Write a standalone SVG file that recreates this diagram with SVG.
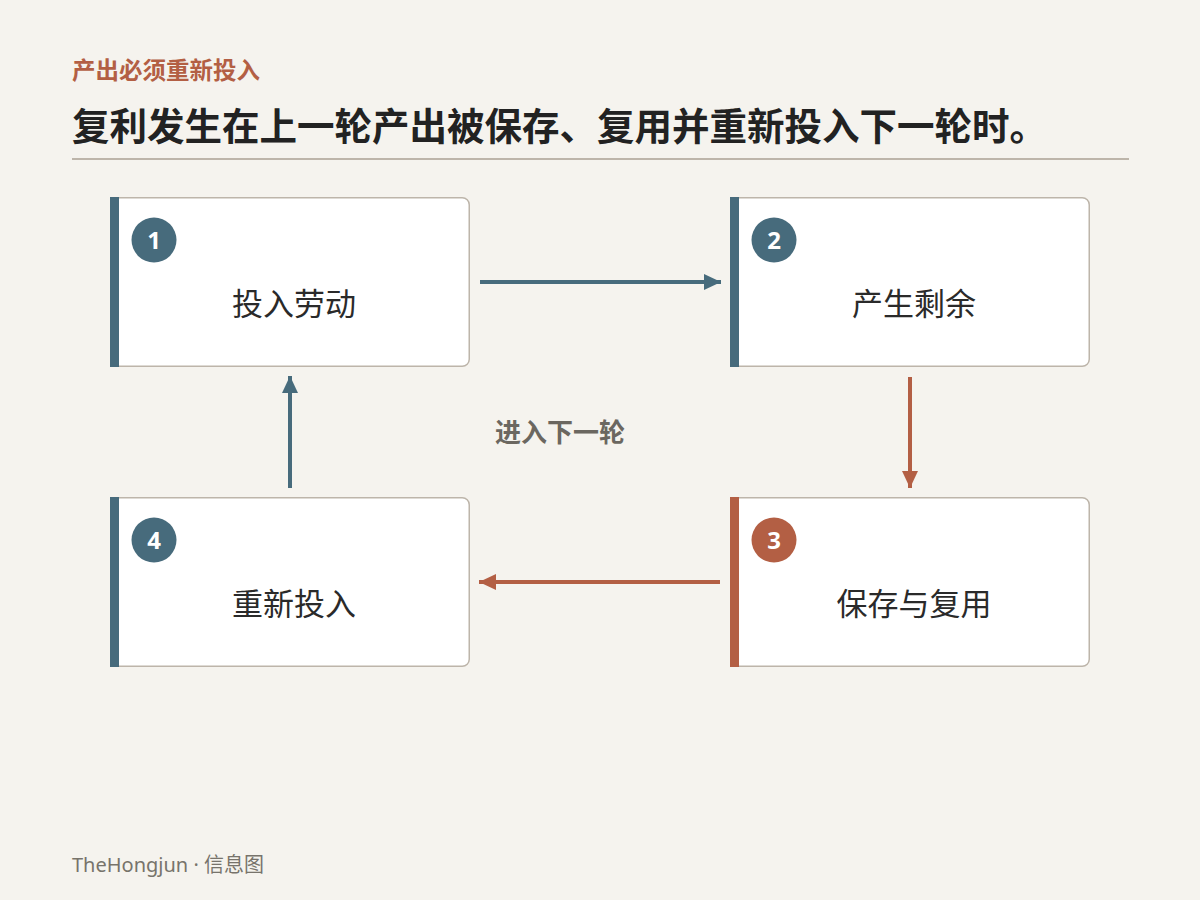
<svg xmlns="http://www.w3.org/2000/svg" width="1200" height="900" viewBox="0 0 1200 900">
<style>
.bg{fill:#f5f3ee}
.card{fill:#ffffff;stroke:#bdb5aa;stroke-width:1.5}
.lbl{font-family:"Noto Sans CJK SC","Noto Sans",sans-serif;font-size:31px;fill:#2a2a2a;text-anchor:middle}
.num{font-family:"Noto Sans","Liberation Sans",sans-serif;font-size:24px;font-weight:700;fill:#ffffff;text-anchor:middle}
.blue{fill:#476b7c}
.rust{fill:#b35f44}
.cb{stroke:#476b7c;stroke-width:4;fill:none}
.cr{stroke:#b35f44;stroke-width:4;fill:none}
</style>
<defs>
<marker id="ab" markerUnits="userSpaceOnUse" markerWidth="18" markerHeight="18" viewBox="0 0 18 18" refX="17" refY="9" orient="auto"><path d="M0,1 L17,9 L0,17 Z" fill="#476b7c"/></marker>
<marker id="ar" markerUnits="userSpaceOnUse" markerWidth="18" markerHeight="18" viewBox="0 0 18 18" refX="17" refY="9" orient="auto"><path d="M0,1 L17,9 L0,17 Z" fill="#b35f44"/></marker>
</defs>
<rect class="bg" x="0" y="0" width="1200" height="900"/>
<text x="72" y="79" font-family="Noto Sans CJK SC,sans-serif" font-size="23.5" font-weight="700" fill="#b35f44">产出必须重新投入</text>
<text x="72" y="140" font-family="Noto Sans CJK SC,sans-serif" font-size="37.5" font-weight="700" fill="#222222">复利发生在上一轮产出被保存、复用并重新投入下一轮时。</text>
<line x1="72" y1="159" x2="1129" y2="159" stroke="#bdb5aa" stroke-width="2"/>
<g id="connectors">
<line class="cb" x1="480" y1="282" x2="721" y2="282" marker-end="url(#ab)"/>
<line class="cr" x1="910" y1="377" x2="910" y2="488" marker-end="url(#ar)"/>
<line class="cr" x1="720" y1="582" x2="479" y2="582" marker-end="url(#ar)"/>
<line class="cb" x1="290" y1="488" x2="290" y2="376" marker-end="url(#ab)"/>
<text x="495" y="442" font-family="Noto Sans CJK SC,sans-serif" font-size="26" font-weight="700" fill="#6b6760">进入下一轮</text>
</g>
<g id="node1">
<rect class="card" x="110.75" y="197.75" width="358.5" height="168.5" rx="7"/>
<rect class="blue" x="110" y="197" width="9" height="170"/>
<circle class="blue" cx="154" cy="240" r="22.5"/>
<text class="num" x="154" y="248.5">1</text>
<text class="lbl" x="294" y="315">投入劳动</text>
</g>
<g id="node2">
<rect class="card" x="730.75" y="197.75" width="358.5" height="168.5" rx="7"/>
<rect class="blue" x="730" y="197" width="9" height="170"/>
<circle class="blue" cx="774" cy="240" r="22.5"/>
<text class="num" x="774" y="248.5">2</text>
<text class="lbl" x="914" y="315">产生剩余</text>
</g>
<g id="node3">
<rect class="card" x="730.75" y="497.75" width="358.5" height="168.5" rx="7"/>
<rect class="rust" x="730" y="497" width="9" height="170"/>
<circle class="rust" cx="774" cy="540" r="22.5"/>
<text class="num" x="774" y="548.5">3</text>
<text class="lbl" x="914" y="615">保存与复用</text>
</g>
<g id="node4">
<rect class="card" x="110.75" y="497.75" width="358.5" height="168.5" rx="7"/>
<rect class="blue" x="110" y="497" width="9" height="170"/>
<circle class="blue" cx="154" cy="540" r="22.5"/>
<text class="num" x="154" y="548.5">4</text>
<text class="lbl" x="294" y="615">重新投入</text>
</g>
<text x="72" y="872" font-family="Noto Sans,Noto Sans CJK SC,sans-serif" font-size="20" fill="#77736b">TheHongjun · 信息图</text>
</svg>
